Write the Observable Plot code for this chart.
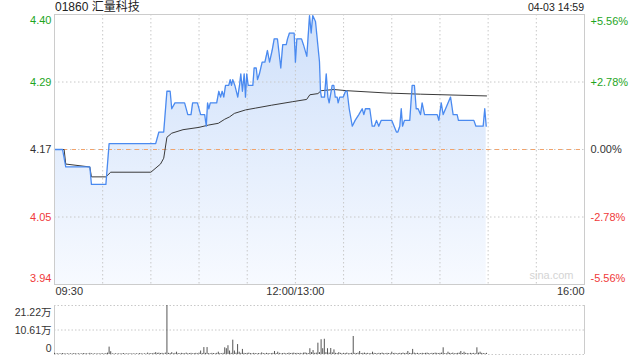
<!DOCTYPE html>
<html><head><meta charset="utf-8">
<script src="https://cdn.jsdelivr.net/npm/d3@7"></script>
<script src="https://cdn.jsdelivr.net/npm/@observablehq/plot@0.6"></script>
<style>
body{margin:0;background:#fff;font-family:"Liberation Sans",Arial,"Noto Sans CJK SC",sans-serif;}
#wrap{position:relative;width:640px;height:360px;overflow:hidden;background:#fff;}
#title{position:absolute;left:55px;top:0px;font-size:12px;line-height:14px;color:#222;white-space:nowrap;}
#stamp{position:absolute;right:56px;top:1px;font-size:10.5px;line-height:13px;color:#222;white-space:nowrap;}
#main{position:absolute;left:0;top:0;}
#vol{position:absolute;left:0;top:300px;}
</style></head><body>
<div id="wrap"><div id="main"></div><div id="vol"></div>
<div id="title">01860 汇量科技</div><div id="stamp">04-03 14:59</div></div>
<script>
// ---- data ----
const prevClose = 4.17;
const pctTicks = [5.56, 2.78, 0, -2.78, -5.56];
const priceTickLabels = ["4.40", "4.29", "4.17", "4.05", "3.94"];
const pctTickLabels = ["+5.56%", "+2.78%", "0.00%", "-2.78%", "-5.56%"];
const timeLabels = ["09:30", "12:00/13:00", "16:00"];
const timeLabelMinutes = [0, 150, 330];
const gridMinutes = [30, 60, 90, 120, 150, 180, 210, 240, 270, 300];
const totalMinutes = 330;
const volMax = 21.22;
const volTickValues = [21.22, 10.61, 0];
const volTickLabels = ["21.22万", "10.61万", "0"];

// [minute since 09:30, price]
const pricePoints = [[0,4.17],[5,4.17],[7,4.14],[22,4.14],[23,4.11],[32,4.11],[34,4.18],[63,4.18],[65,4.20],[68,4.20],[70,4.27],[72,4.27],[73,4.24],[75,4.25],[81,4.25],[83,4.23],[85,4.23],[86,4.25],[89,4.25],[91,4.23],[93.5,4.23],[94.5,4.21],[95.3,4.25],[96.1,4.24],[97,4.25],[101,4.25],[102.3,4.27],[103.4,4.26],[104.4,4.27],[105.4,4.26],[106.5,4.28],[108.5,4.28],[109.4,4.29],[110.2,4.28],[111,4.29],[112.3,4.28],[114.1,4.26],[115.2,4.28],[116,4.30],[117,4.27],[118.1,4.30],[118.9,4.26],[119.7,4.30],[120.6,4.28],[123.5,4.28],[124.3,4.31],[125.6,4.31],[126.4,4.29],[127.6,4.30],[129.3,4.32],[131,4.32],[132.6,4.34],[133.9,4.32],[135.5,4.34],[136.8,4.36],[138.8,4.36],[140.9,4.31],[142.1,4.35],[144.3,4.35],[145.1,4.36],[146.3,4.37],[149.2,4.37],[150,4.32],[150.9,4.36],[153.8,4.36],[155,4.35],[157.1,4.33],[158.8,4.40],[159.8,4.37],[160.8,4.40],[162.5,4.39],[165,4.32],[165.6,4.27],[166.2,4.26],[168.1,4.26],[169.2,4.30],[170.2,4.26],[171,4.25],[172.9,4.28],[173.9,4.28],[174.8,4.26],[176,4.26],[176.6,4.25],[177.6,4.26],[179.8,4.26],[181.2,4.27],[182.2,4.27],[183.5,4.24],[185.4,4.21],[187.2,4.22],[189.5,4.23],[191.6,4.24],[192.6,4.23],[193.6,4.24],[196.3,4.24],[197.8,4.21],[199.2,4.21],[200.5,4.22],[201.9,4.21],[203.4,4.22],[210,4.22],[212.9,4.20],[213.8,4.20],[215,4.21],[215.9,4.24],[216.7,4.21],[217.9,4.22],[221.2,4.22],[222.7,4.28],[224.1,4.28],[225.2,4.24],[226.4,4.24],[227.9,4.23],[228.9,4.25],[230.4,4.23],[238.3,4.23],[239.3,4.22],[240.8,4.25],[242,4.23],[246.6,4.26],[248.2,4.23],[250.7,4.23],[251.5,4.22],[261.1,4.22],[262.4,4.21],[266.9,4.21],[267.9,4.24],[268.8,4.21]];

// [minute, average price]
const avgPoints = [[0,4.17],[6,4.17],[7,4.145],[22,4.14],[23,4.123],[32,4.123],[35,4.131],[60,4.131],[66,4.145],[68,4.155],[70,4.191],[73,4.198],[80,4.204],[90,4.208],[96,4.212],[102,4.215],[106,4.222],[109,4.226],[112,4.232],[119,4.238],[125,4.241],[135,4.246],[148,4.252],[157,4.256],[159,4.264],[164,4.266],[166,4.271],[170,4.272],[174,4.273],[182,4.271],[207,4.267],[228,4.265],[269,4.262]];

// volume per minute (万股), minutes 0..269
const volume = [
0.5,0.2,0.3,0.2,0.3,0.4,0.3,0.2,0.3,0.2,
0.3,0.2,0.4,0.3,0.2,0.3,0.2,0.3,0.4,0.3,
0.3,0.2,0.5,0.3,0.2,0.3,0.2,0.3,0.2,0.3,
0.3,0.2,0.4,0.6,3.2,1.2,0.3,0.2,0.3,0.2,
0.3,0.2,0.3,0.4,0.2,0.3,0.2,0.3,0.2,0.3,
0.2,0.3,0.2,0.4,0.3,0.2,0.3,0.2,0.6,0.3,
0.4,0.3,0.5,0.8,0.5,0.6,0.4,0.5,0.3,0.6,
21.22,0.5,0.4,0.8,0.3,0.5,1.0,0.4,0.3,0.5,
0.4,0.3,0.6,0.3,0.4,0.5,0.3,0.4,0.5,0.3,
0.6,1.5,0.4,3.0,0.5,3.0,0.4,0.3,0.5,0.4,
0.3,0.5,1.0,0.4,0.3,0.5,2.9,2.5,3.8,1.5,
0.5,6.2,1.5,0.6,4.3,1.0,0.5,2.2,0.5,0.4,
0.5,0.6,0.4,0.3,0.5,0.4,0.3,0.4,0.3,0.7,
0.4,0.3,0.5,0.4,0.3,0.4,0.5,1.3,0.4,1.0,
0.5,0.3,0.4,0.5,0.3,0.4,0.6,0.4,0.5,0.6,
0.4,0.5,0.4,0.5,0.3,0.6,0.7,0.5,0.4,2.5,
0.8,1.7,0.5,0.6,4.9,0.8,6.4,2.5,6.6,0.8,
2.5,0.6,2.6,0.7,2.0,0.5,0.4,0.8,0.5,0.3,
0.5,0.4,0.6,0.3,0.4,0.5,7.8,0.5,0.4,0.6,
1.3,0.4,0.5,0.6,0.4,0.5,0.3,0.4,1.0,0.5,
0.4,0.3,0.5,0.4,0.6,0.4,0.3,0.5,0.4,0.3,
1.0,0.4,0.5,0.3,0.4,0.5,0.4,0.6,0.4,0.5,
1.3,0.5,0.4,2.2,0.6,0.4,0.5,0.3,0.4,0.5,
0.4,0.5,0.6,0.4,0.3,0.5,0.4,0.6,0.5,0.4,
0.5,0.6,2.9,0.4,0.3,1.0,0.5,0.4,0.6,0.3,
0.4,0.5,0.6,1.3,0.4,1.0,0.5,0.4,0.3,0.5,
0.4,0.5,0.3,2.9,0.6,1.0,0.5,0.4,0.3,0.5];

// ---- styles ----
const green = "#1ea51e", red = "#f03a3a", dark = "#333";
const yMin = prevClose * (1 - 0.0556), yMax = prevClose * (1 + 0.0556);
const ticks = pctTicks.map((p, i) => ({
  y: prevClose * (1 + p / 100), price: priceTickLabels[i], pct: pctTickLabels[i],
  color: p > 0 ? green : p < 0 ? red : dark, i
}));
const topT = ticks.filter(d => d.i === 0), botT = ticks.filter(d => d.i === 4), midT = ticks.filter(d => d.i > 0 && d.i < 4);
const times = timeLabels.map((t, i) => ({t, m: timeLabelMinutes[i]}));
const price = pricePoints.map(([m, p]) => ({m, p}));
const avg = avgPoints.map(([m, p]) => ({m, p}));

const defs = () => {
  const d = d3.create("svg:defs");
  const g = d.append("linearGradient").attr("id", "pg").attr("x1", 0).attr("x2", 0).attr("y1", 0).attr("y2", 1);
  g.append("stop").attr("offset", "0%").attr("stop-color", "#cfe0fa");
  g.append("stop").attr("offset", "100%").attr("stop-color", "#f7faff");
  return d.node();
};

const font = {fontFamily: '"Liberation Sans", Arial, "Noto Sans CJK SC", sans-serif', fontSize: "11px", background: "transparent", overflow: "visible"};

const main = Plot.plot({
  width: 640, height: 300,
  marginLeft: 54, marginRight: 56, marginTop: 14, marginBottom: 16,
  x: {domain: [0, totalMinutes], axis: null},
  y: {domain: [yMin, yMax], axis: null},
  color: {type: "identity"},
  style: font,
  marks: [
    defs,
    Plot.areaY(price, {x: "m", y1: yMin, y2: "p", fill: "url(#pg)"}),
    Plot.ruleX(gridMinutes, {stroke: "#c8c8c8", strokeDasharray: "1.5,2.5"}),
    Plot.ruleY(midT.filter(d => d.i !== 2), {y: "y", stroke: "#c8c8c8", strokeDasharray: "1.5,2.5"}),
    Plot.ruleY([prevClose], {stroke: "#c8c8c8", strokeDasharray: "1.5,2.5"}),
    Plot.ruleY([prevClose], {stroke: "#f2a36b", strokeDasharray: "4,5"}),
    Plot.line(avg, {x: "m", y: "p", stroke: "#3a3a3a", strokeWidth: 1}),
    Plot.line(price, {x: "m", y: "p", stroke: "#4a8af0", strokeWidth: 1.3}),
    Plot.frame({stroke: "#cccccc"}),
    Plot.text(midT, {y: "y", text: "price", fill: "color", frameAnchor: "left", textAnchor: "end", dx: -3}),
    Plot.text(topT, {y: "y", text: "price", fill: "color", frameAnchor: "left", textAnchor: "end", dx: -3, dy: 6}),
    Plot.text(botT, {y: "y", text: "price", fill: "color", frameAnchor: "left", textAnchor: "end", dx: -3, dy: -6}),
    Plot.text(midT, {y: "y", text: "pct", fill: "color", frameAnchor: "right", textAnchor: "start", dx: 6}),
    Plot.text(topT, {y: "y", text: "pct", fill: "color", frameAnchor: "right", textAnchor: "start", dx: 6, dy: 7}),
    Plot.text(botT, {y: "y", text: "pct", fill: "color", frameAnchor: "right", textAnchor: "start", dx: 6, dy: -6}),
    Plot.text(times.filter(d => d.m === 0), {x: "m", text: "t", frameAnchor: "bottom", textAnchor: "start", dy: 10, dx: 1, fill: dark}),
    Plot.text(times.filter(d => d.m > 0 && d.m < totalMinutes), {x: "m", text: "t", frameAnchor: "bottom", textAnchor: "middle", dy: 10, fill: dark}),
    Plot.text(times.filter(d => d.m === totalMinutes), {x: "m", text: "t", frameAnchor: "bottom", textAnchor: "end", dy: 10, fill: dark}),
    Plot.text(["sina.com"], {text: d => d, frameAnchor: "bottom-right", textAnchor: "end", dx: -11, dy: -6, fill: "#d4d4d4", fontSize: 11})
  ]
});
document.getElementById("main").append(main);

const volTicks = volTickValues.map((v, i) => ({v, label: volTickLabels[i], i}));
const vol = Plot.plot({
  width: 640, height: 60,
  marginLeft: 54, marginRight: 56, marginTop: 5, marginBottom: 6,
  x: {domain: [0, totalMinutes], axis: null},
  y: {domain: [0, volMax], axis: null},
  style: font,
  marks: [
    Plot.ruleY(volTickValues, {stroke: "#c8c8c8", strokeDasharray: "1.5,2"}),
    Plot.ruleX([0, totalMinutes], {stroke: "#cccccc"}),
    Plot.ruleX(volume, {x: (d, i) => i, y1: 0, y2: d => d, stroke: "#555", strokeWidth: 1}),
    Plot.text(volTicks.filter(d => d.i === 0), {y: "v", text: "label", frameAnchor: "left", textAnchor: "end", dx: -3, dy: 7, fill: dark, fontSize: 10.5}),
    Plot.text(volTicks.filter(d => d.i === 1), {y: "v", text: "label", frameAnchor: "left", textAnchor: "end", dx: -3, dy: 1, fill: dark, fontSize: 10.5}),
    Plot.text(volTicks.filter(d => d.i === 2), {y: "v", text: "label", frameAnchor: "left", textAnchor: "end", dx: -3, dy: -6, fill: dark, fontSize: 10.5})
  ]
});
document.getElementById("vol").append(vol);
</script>
</body></html>
